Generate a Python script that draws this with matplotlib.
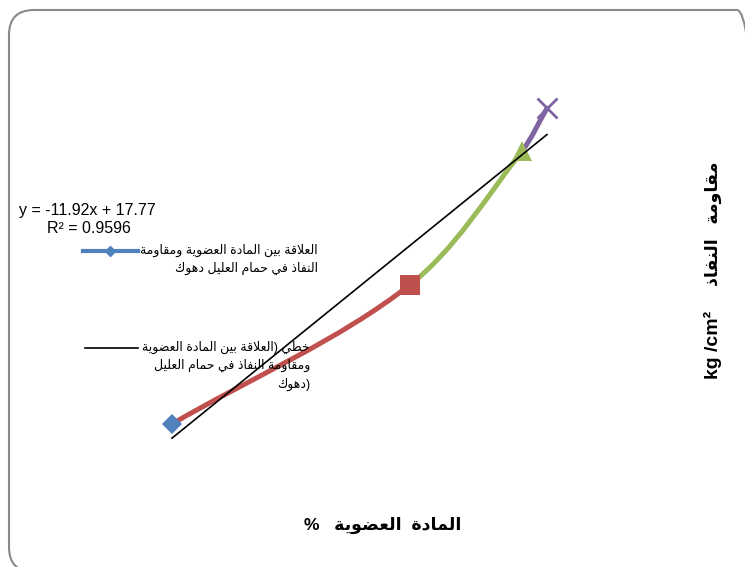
import matplotlib

matplotlib.use("Agg")
import matplotlib.pyplot as plt
import numpy as np
from matplotlib.lines import Line2D
from matplotlib.patches import FancyBboxPatch, PathPatch
from matplotlib.path import Path

# organic matter (%) vs penetration resistance (kg/cm2)
organic_matter = [1.20, 0.82, 0.64, 0.60]
resistance = [3.80, 7.07, 10.23, 11.24]
point_colors = ["#4F81BD", "#C0504D", "#9BBB59", "#8064A2"]
point_markers = ["D", "s", "^", "x"]

trend_slope = -11.92
trend_intercept = 17.77
equation_text = "y = -11.92x + 17.77"
r2_text = "R² = 0.9596"

series_name = ["العلاقة بين المادة العضوية ومقاومة", "النفاذ في حمام العليل دهوك"]
trend_name = ["خطي (العلاقة بين المادة العضوية", "ومقاومة النفاذ في حمام العليل", "دهوك"]
x_title = "المادة  العضوية   %"
y_title_ar = "مقاومة   النفاذ"
y_title_unit = "kg /cm²"

# --- minimal Arabic shaping (matplotlib has no bidi / joining) ---
DUAL = dict(zip("ئبتثجحخسشصضطظعغفقكلمنهي",
                [0xFE89, 0xFE8F, 0xFE95, 0xFE99, 0xFE9D, 0xFEA1, 0xFEA5, 0xFEB1,
                 0xFEB5, 0xFEB9, 0xFEBD, 0xFEC1, 0xFEC5, 0xFEC9, 0xFECD, 0xFED1,
                 0xFED5, 0xFED9, 0xFEDD, 0xFEE1, 0xFEE5, 0xFEE9, 0xFEF1]))
RIGHT = dict(zip("آأؤإاةدذرزوى",
                 [0xFE81, 0xFE83, 0xFE85, 0xFE87, 0xFE8D, 0xFE93, 0xFEA9, 0xFEAB,
                  0xFEAD, 0xFEAF, 0xFEED, 0xFEEF]))
LAM_ALEF = {"ا": 0xFEFB, "أ": 0xFEF7, "إ": 0xFEF9, "آ": 0xFEF5}


def shape(text):
    out, i, n = [], 0, len(text)
    while i < n:
        c = text[i]
        if c not in DUAL and c not in RIGHT:
            out.append(c)
            i += 1
            continue
        linked_prev = i > 0 and text[i - 1] in DUAL
        if c == "ل" and i + 1 < n and text[i + 1] in LAM_ALEF:
            out.append(chr(LAM_ALEF[text[i + 1]] + int(linked_prev)))
            i += 2
            continue
        nxt = text[i + 1] if i + 1 < n else ""
        linked_next = c in DUAL and (nxt in DUAL or nxt in RIGHT)
        base = DUAL.get(c, RIGHT.get(c))
        form = {(True, True): 3, (True, False): 1, (False, True): 2, (False, False): 0}
        out.append(chr(base + form[(linked_prev, linked_next)]))
        i += 1
    return "".join(out)


def rtl(text):
    mirror = {"(": ")", ")": "("}
    return "".join(mirror.get(c, c) for c in reversed(shape(text)))


FONT = ["Liberation Sans", "DejaVu Sans"]
plt.rcParams["font.family"] = FONT

W, H = 745, 567
fig = plt.figure(figsize=(W / 100, H / 100), dpi=100)

# chart area border (rounded, partly off canvas like the source)
fig.patches.append(FancyBboxPatch(
    (0.09, -0.05), 7.53, 5.62, boxstyle="round,pad=0,rounding_size=0.25",
    transform=fig.dpi_scale_trans, fc="none", ec="#898989", lw=1.5))

ax = fig.add_axes([150 / W, 1 - 450 / H, 420 / W, 360 / H])
ax.set_xlim(1.2352, 0.5632)
ax.set_ylim(3.187, 11.668)
ax.axis("off")

# smoothed line (Bezier through the points, tangents weighted by screen
# segment length), each segment coloured like the point it ends on
pts = np.column_stack([organic_matter, resistance])
scr = ax.transData.transform(pts)
n = len(pts)
ext = np.vstack([2 * pts[0] - pts[1], pts, 2 * pts[-1] - pts[-2]])
ext_s = np.vstack([2 * scr[0] - scr[1], scr, 2 * scr[-1] - scr[-2]])
seglen = np.hypot(*np.diff(ext_s, axis=0).T)
for k in range(n - 1):
    p0, p1, p2, p3 = ext[k:k + 4]
    d01, d12, d23 = seglen[k:k + 3]
    c1 = p1 + (p2 - p0) * d12 / (d01 + d12) / 3
    c2 = p2 - (p3 - p1) * d12 / (d12 + d23) / 3
    seg = Path([p1, c1, c2, p2], [Path.MOVETO, Path.CURVE4, Path.CURVE4, Path.CURVE4])
    ax.add_patch(PathPatch(seg, fc="none", ec=point_colors[k + 1], lw=3.6,
                           capstyle="round", zorder=2))

sizes = {"D": 10.5, "s": 14, "^": 14.5, "x": 14}
for x, y, col, m in zip(organic_matter, resistance, point_colors, point_markers):
    ax.plot([x], [y], marker=m, ms=sizes[m], color=col, mec=col,
            mew=2 if m == "x" else 0, ls="none", zorder=3, clip_on=False)

# linear trendline
tx = [min(organic_matter), max(organic_matter)]
ax.plot(tx, [trend_slope * v + trend_intercept for v in tx], color="black",
        lw=1.2, zorder=4, clip_on=False)


def fx(px):
    return px / W


def fy(py):
    return 1 - py / H


fig.text(fx(19), fy(210), equation_text, fontsize=11.5, va="center")
fig.text(fx(47), fy(229), r2_text, fontsize=11.5, va="center")

# legend, drawn by hand (RTL text, handle beside the first line)
fig.add_artist(Line2D([fx(83), fx(138)], [fy(251), fy(251)], color=point_colors[0], lw=3))
fig.add_artist(Line2D([fx(110)], [fy(251)], color=point_colors[0], marker="D",
                      ms=5, ls="none"))
for i, line in enumerate(series_name):
    fig.text(fx(318), fy(250 + 18.5 * i), rtl(line), fontsize=9, ha="right",
             va="center")

fig.add_artist(Line2D([fx(85), fx(138)], [fy(348), fy(348)], color="black", lw=1.2))
trend_lines = [rtl(trend_name[0]), rtl(trend_name[1]), rtl(trend_name[2]) + ")"]
for i, line in enumerate(trend_lines):
    fig.text(fx(310), fy(347 + 18.5 * i), line, fontsize=9, ha="right", va="center")

# axis titles
fig.text(fx(383), fy(525), rtl(x_title), fontsize=12.5, fontweight="bold",
         ha="center", va="center")
fig.text(fx(713), fy(224), rtl(y_title_ar), fontsize=12.5, fontweight="bold",
         rotation=90, ha="center", va="center")
fig.text(fx(713), fy(345), y_title_unit, fontsize=14, fontweight="bold",
         rotation=90, ha="center", va="center")

fig.savefig("out.png", dpi=100)
